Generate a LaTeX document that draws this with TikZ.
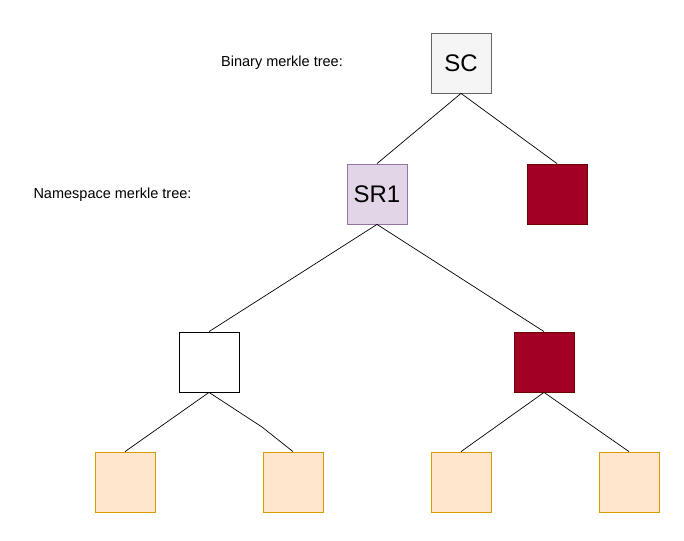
\documentclass[tikz,border=0pt]{standalone}
\usepackage{fontspec}
\setmainfont{Liberation Sans}
\definecolor{scfill}{HTML}{F5F5F5}
\definecolor{scline}{HTML}{666666}
\definecolor{srfill}{HTML}{E1D5E7}
\definecolor{srline}{HTML}{9673A6}
\definecolor{redfill}{HTML}{A20025}
\definecolor{redline}{HTML}{6F0000}
\definecolor{leaffill}{HTML}{FFE6CC}
\definecolor{leafline}{HTML}{D79B00}
\tikzset{
	hashbox/.style={draw, minimum size=60pt, inner sep=0pt, line width=0.8pt, font=\fontsize{24}{28}\selectfont},
	leafbox/.style={hashbox, fill=leaffill, draw=leafline},
	redbox/.style={hashbox, fill=redfill, draw=redline},
}
\begin{document}
\begin{tikzpicture}[x=1pt,y=-1pt]
		\tikzstyle{every edge}=[draw,color=black,line width=0.7pt]
		\useasboundingbox (0,0) rectangle (684,540);

		\node (binlabel) at (282,63) {\fontsize{14.5}{17}\selectfont Binary merkle tree:};
		\node (nslabel) at (112.5,195) {\fontsize{14.5}{17}\selectfont Namespace merkle tree:};

		\node (sc) at (461,63) [hashbox, fill=scfill, draw=scline] {SC};
		\node (sr1) at (377,194) [hashbox, fill=srfill, draw=srline] {SR1};
		\node (redtop) at (557,194) [redbox] {};

		\node (left) at (209,362) [hashbox, fill=white] {};
		\node (redmid) at (544,362) [redbox] {};

		\node (leafa) at (125,482) [leafbox] {};
		\node (leafb) at (293,482) [leafbox] {};
		\node (leafc) at (461,482) [leafbox] {};
		\node (leafd) at (629,482) [leafbox] {};

		\coordinate (kink) at (262,427);

		\path (sc.south) edge (sr1.north);
		\path (sc.south) edge (redtop.north);

		\path (sr1.south) edge (left.north);
		\path (sr1.south) edge (redmid.north);

		\path (left.south) edge (leafa.north);
		\draw[line width=0.7pt] (left.south) -- (kink) -- (leafb.north);

		\path (redmid.south) edge (leafc.north);
		\path (redmid.south) edge (leafd.north);
	\end{tikzpicture}
\end{document}
